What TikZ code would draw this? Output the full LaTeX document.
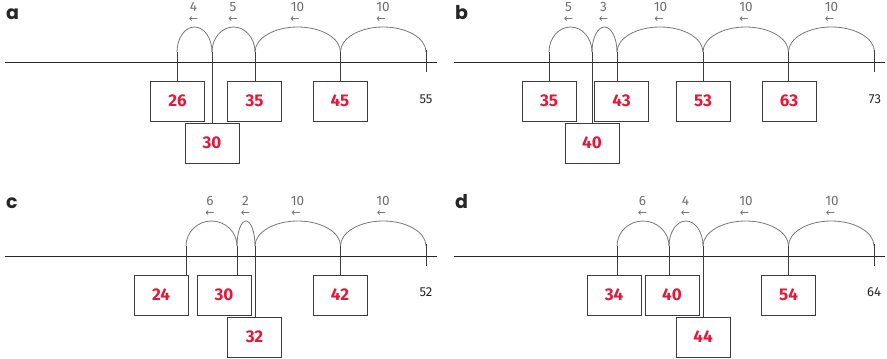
\documentclass[tikz,border=0pt]{standalone}
\usepackage{fontspec}
\setmainfont{Fira Sans}
\newfontfamily\letterfont{Poppins}
\newfontfamily\arrowfont{DejaVu Sans}
\definecolor{numred}{RGB}{228,24,56}
\definecolor{arcgray}{RGB}{120,120,120}
\definecolor{labgray}{RGB}{110,110,110}
\definecolor{boxgray}{RGB}{60,60,60}
\begin{document}
\begin{tikzpicture}[x=1pt,y=-1pt,
  axisline/.style={draw=black!85,line width=0.9pt},
  jumparc/.style={draw=arcgray,line width=0.8pt},
  conn/.style={draw=boxgray,line width=0.9pt},
  numbox/.style={draw=boxgray,line width=0.9pt,fill=white,minimum width=54pt,minimum height=40pt,inner sep=0pt,font=\fontsize{17}{17}\selectfont\bfseries,text=numred},
  jumplab/.style={inner sep=0pt,font=\fontsize{13.5}{13.5}\selectfont,text=labgray},
  arrowlab/.style={inner sep=0pt,font=\arrowfont\fontsize{11}{11}\selectfont,text=labgray},
  endlab/.style={inner sep=0pt,font=\fontsize{13}{13}\selectfont,text=black!85},
  panellab/.style={inner sep=0pt,anchor=base west,font=\letterfont\fontsize{19}{19}\selectfont\bfseries,text=black!85}]
\useasboundingbox (0,0) rectangle (887,359);

% ================= panel a =================
\node[panellab] (la) at (6,19.5) {a};
\draw[axisline] (5,62) -- (437,62);
\coordinate (a26) at (177,52);
\coordinate (a30) at (212,52);
\coordinate (a35) at (255,52);
\coordinate (a45) at (340.5,52);
\coordinate (a55t) at (426,50);
\coordinate (a55b) at (426,72);
\draw[jumparc] (a26) arc[start angle=180,end angle=0,x radius=17.5pt,y radius=25pt];
\draw[jumparc] (a30) arc[start angle=180,end angle=0,x radius=21.5pt,y radius=25pt];
\draw[jumparc] (a35) arc[start angle=180,end angle=0,x radius=42.75pt,y radius=25pt];
\draw[jumparc] (a45) arc[start angle=180,end angle=0,x radius=42.75pt,y radius=25pt];
\draw[conn] (a55t) -- (a55b);
\node[numbox] (ba26) at (177.5,101) {26};
\node[numbox] (ba35) at (254.5,101) {35};
\node[numbox] (ba45) at (340,101) {45};
\node[numbox] (ba30) at (212,143) {30};
\draw[conn] (a26) -- (a26 |- ba26.north);
\draw[conn] (a30) -- (a30 |- ba30.north);
\draw[conn] (a35) -- (a35 |- ba35.north);
\draw[conn] (a45) -- (a45 |- ba45.north);
\node[endlab] (ea) at (426,99) {55};
\node[jumplab] (ja1) at (193.5,7) {4};
\node[arrowlab] (ka1) at (193.5,20) {←};
\node[jumplab] (ja2) at (233,7) {5};
\node[arrowlab] (ka2) at (233,20) {←};
\node[jumplab] (ja3) at (297.5,7) {10};
\node[arrowlab] (ka3) at (295,20) {←};
\node[jumplab] (ja4) at (383,7) {10};
\node[arrowlab] (ka4) at (381,20) {←};

% ================= panel b =================
\node[panellab] (lb) at (455,19.5) {b};
\draw[axisline] (454,62) -- (885,62);
\coordinate (b35) at (549,52);
\coordinate (b40) at (592,52);
\coordinate (b43) at (617,52);
\coordinate (b53) at (703,52);
\coordinate (b63) at (788.5,52);
\coordinate (b73t) at (874.5,50);
\coordinate (b73b) at (874.5,72);
\draw[jumparc] (b35) arc[start angle=180,end angle=0,x radius=21.5pt,y radius=25pt];
\draw[jumparc] (b40) arc[start angle=180,end angle=0,x radius=12.5pt,y radius=25pt];
\draw[jumparc] (b43) arc[start angle=180,end angle=0,x radius=43pt,y radius=25pt];
\draw[jumparc] (b53) arc[start angle=180,end angle=0,x radius=42.75pt,y radius=25pt];
\draw[jumparc] (b63) arc[start angle=180,end angle=0,x radius=43pt,y radius=25pt];
\draw[conn] (b73t) -- (b73b);
\node[numbox] (bb35) at (549,101) {35};
\node[numbox] (bb43) at (621.5,101) {43};
\node[numbox] (bb53) at (703,101) {53};
\node[numbox] (bb63) at (789,101) {63};
\node[numbox] (bb40) at (592,143) {40};
\draw[conn] (b35) -- (b35 |- bb35.north);
\draw[conn] (b40) -- (b40 |- bb40.north);
\draw[conn] (b43) -- (b43 |- bb43.north);
\draw[conn] (b53) -- (b53 |- bb53.north);
\draw[conn] (b63) -- (b63 |- bb63.north);
\node[endlab] (eb) at (875,99) {73};
\node[jumplab] (jb1) at (568.5,7) {5};
\node[arrowlab] (kb1) at (568.5,20) {←};
\node[jumplab] (jb2) at (603.5,7) {3};
\node[arrowlab] (kb2) at (603.5,20) {←};
\node[jumplab] (jb3) at (660.5,7) {10};
\node[arrowlab] (kb3) at (659,20) {←};
\node[jumplab] (jb4) at (746,7) {10};
\node[arrowlab] (kb4) at (744,20) {←};
\node[jumplab] (jb5) at (831.5,7) {10};
\node[arrowlab] (kb5) at (829.5,20) {←};

% ================= panel c =================
\node[panellab] (lc) at (6,208) {c};
\draw[axisline] (5,256) -- (437,256);
\coordinate (c24) at (186,246);
\coordinate (c30) at (237,246);
\coordinate (c32) at (255,246);
\coordinate (c42) at (340.5,246);
\coordinate (c52t) at (426,244);
\coordinate (c52b) at (426,266);
\draw[jumparc] (c24) arc[start angle=180,end angle=0,x radius=25.5pt,y radius=25pt];
\draw[jumparc] (c30) arc[start angle=180,end angle=0,x radius=9pt,y radius=25pt];
\draw[jumparc] (c32) arc[start angle=180,end angle=0,x radius=42.75pt,y radius=25pt];
\draw[jumparc] (c42) arc[start angle=180,end angle=0,x radius=42.75pt,y radius=25pt];
\draw[conn] (c52t) -- (c52b);
\node[numbox] (bc24) at (161,295) {24};
\node[numbox] (bc30) at (224,295) {30};
\node[numbox] (bc42) at (340,295) {42};
\node[numbox] (bc32) at (254.5,337) {32};
\draw[conn] (c24) -- (c24 |- bc24.north);
\draw[conn] (c30) -- (c30 |- bc30.north);
\draw[conn] (c32) -- (c32 |- bc32.north);
\draw[conn] (c42) -- (c42 |- bc42.north);
\node[endlab] (ec) at (426,292) {52};
\node[jumplab] (jc1) at (210,201) {6};
\node[arrowlab] (kc1) at (210,214) {←};
\node[jumplab] (jc2) at (245.5,201) {2};
\node[arrowlab] (kc2) at (245.5,214) {←};
\node[jumplab] (jc3) at (297.5,201) {10};
\node[arrowlab] (kc3) at (296,214) {←};
\node[jumplab] (jc4) at (383,201) {10};
\node[arrowlab] (kc4) at (381.5,214) {←};

% ================= panel d =================
\node[panellab] (ld) at (455,208) {d};
\draw[axisline] (454,256) -- (885,256);
\coordinate (d34) at (617,246);
\coordinate (d40) at (669,246);
\coordinate (d44) at (703,246);
\coordinate (d54) at (788.5,246);
\coordinate (d64t) at (874,244);
\coordinate (d64b) at (874,266);
\draw[jumparc] (d34) arc[start angle=180,end angle=0,x radius=26pt,y radius=25pt];
\draw[jumparc] (d40) arc[start angle=180,end angle=0,x radius=17pt,y radius=25pt];
\draw[jumparc] (d44) arc[start angle=180,end angle=0,x radius=42.75pt,y radius=25pt];
\draw[jumparc] (d54) arc[start angle=180,end angle=0,x radius=42.75pt,y radius=25pt];
\draw[conn] (d64t) -- (d64b);
\node[numbox] (bd34) at (614,295) {34};
\node[numbox] (bd40) at (672,295) {40};
\node[numbox] (bd54) at (788.5,295) {54};
\node[numbox] (bd44) at (703,337) {44};
\draw[conn] (d34) -- (d34 |- bd34.north);
\draw[conn] (d40) -- (d40 |- bd40.north);
\draw[conn] (d44) -- (d44 |- bd44.north);
\draw[conn] (d54) -- (d54 |- bd54.north);
\node[endlab] (ed) at (874,292) {64};
\node[jumplab] (jd1) at (642.5,201) {6};
\node[arrowlab] (kd1) at (642.5,214) {←};
\node[jumplab] (jd2) at (685.5,201) {4};
\node[arrowlab] (kd2) at (685.5,214) {←};
\node[jumplab] (jd3) at (746,201) {10};
\node[arrowlab] (kd3) at (744.5,214) {←};
\node[jumplab] (jd4) at (832,201) {10};
\node[arrowlab] (kd4) at (830.5,214) {←};
\end{tikzpicture}
\end{document}
